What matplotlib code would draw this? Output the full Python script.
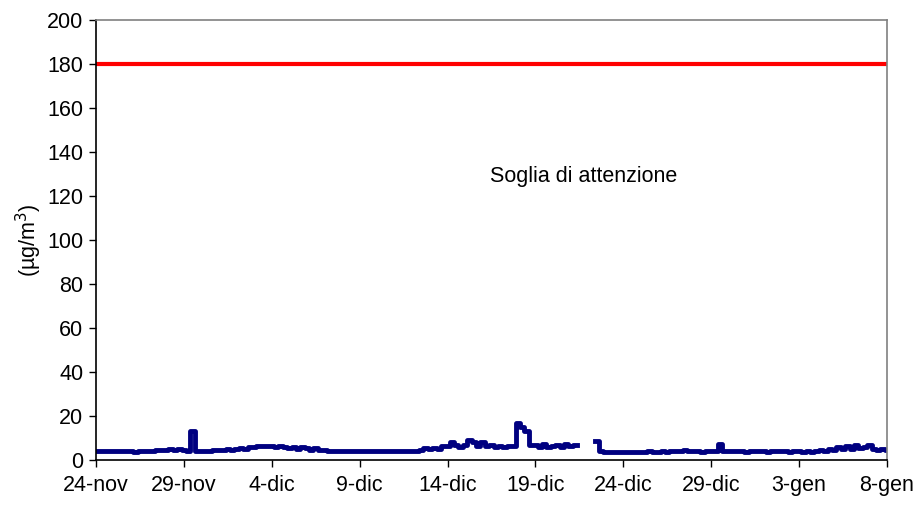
import numpy as np
import matplotlib
matplotlib.use("Agg")
import matplotlib.pyplot as plt

plt.rcParams['font.family'] = ['Liberation Sans', 'DejaVu Sans']

# 6-hourly concentrations (µg/m3), days since 24-nov
conc = [
    4, 4, 4, 4,        4, 4, 4, 4,        4, 3.8, 4, 4,      4, 4, 4.5, 4.5,
    4.5, 5, 4.5, 5,    4.5, 4, 13, 4,     4, 4, 4, 4.5,      4.5, 4.5, 5, 4.5,
    5, 5.5, 5, 6,      6, 6.5, 6.5, 6.5,  6.5, 6, 6.5, 6,    5.5, 6, 5, 6,
    5.5, 4.5, 5.5, 4.5, 4.5, 4, 4, 4,     4, 4, 4, 4,        4, 4, 4, 4,
    4, 4, 4, 4,        4, 4, 4, 4,        4, 4, 4.5, 5.5,    5, 5.5, 5, 6.5,
    6.5, 8, 7, 6,      7, 9, 8, 6.5,      8, 6.5, 7, 6,      6.5, 6, 6.5, 6.5,
    17, 15, 13, 7,     7, 6, 7.5, 6,      6.5, 7, 6, 7.5,    6.5, 7, np.nan, np.nan,
    np.nan, np.nan, 8.5, 4, 3.5, 3.5, 3.8, 3.5, 3.5, 3.5, 3.5, 3.5, 3.5, 3.5, 4, 3.5,
    3.5, 4, 3.5, 4,    4, 4, 4.5, 4,      4, 4, 3.8, 4,      4, 4, 7.5, 4,
    4, 4, 4, 4,        3.8, 4, 4, 4,      4, 3.8, 4, 4,      4, 4, 3.5, 4,
    4, 3.5, 4, 3.8,    4, 4.5, 4, 5,      4.5, 6, 5, 6.5,    5, 7, 5.5, 6,
    7, 5, 4.5, 5,      4.5,
]
threshold = 180
tick_days = [0, 5, 10, 15, 20, 25, 30, 35, 40, 45]
tick_labels = ['24-nov', '29-nov', '4-dic', '9-dic', '14-dic', '19-dic',
               '24-dic', '29-dic', '3-gen', '8-gen']

days = np.arange(len(conc)) * 0.25

fig = plt.figure(figsize=(9.21, 5.05), dpi=100)
ax = fig.add_axes([0.1042, 0.0891, 0.963 - 0.1042, 0.9604 - 0.0891])

ax.plot([0, 45], [threshold, threshold], color='#FF0000', lw=3.0, solid_capstyle='butt')
ax.plot(days, conc, color='#000080', lw=3.5, drawstyle='steps-mid')

ax.set_xlim(0, 45)
ax.set_ylim(0, 200)
ax.set_yticks(np.arange(0, 201, 20))
ax.set_xticks(tick_days)
ax.set_xticklabels(tick_labels)
ax.tick_params(axis='both', labelsize=15.5, direction='out', length=5, width=1, color='black')
ax.tick_params(axis='x', pad=6)
ax.tick_params(axis='y', pad=4)

for s in ['left', 'bottom']:
    ax.spines[s].set_color('black')
    ax.spines[s].set_linewidth(1.2)
for s in ['top', 'right']:
    ax.spines[s].set_color('#808080')
    ax.spines[s].set_linewidth(1.2)

ax.set_ylabel('(µg/m$^3$)', fontsize=15.5, labelpad=2)
ax.text(22.4, 129, 'Soglia di attenzione', fontsize=15.5, ha='left', va='center')

fig.savefig('out.png', dpi=100)
